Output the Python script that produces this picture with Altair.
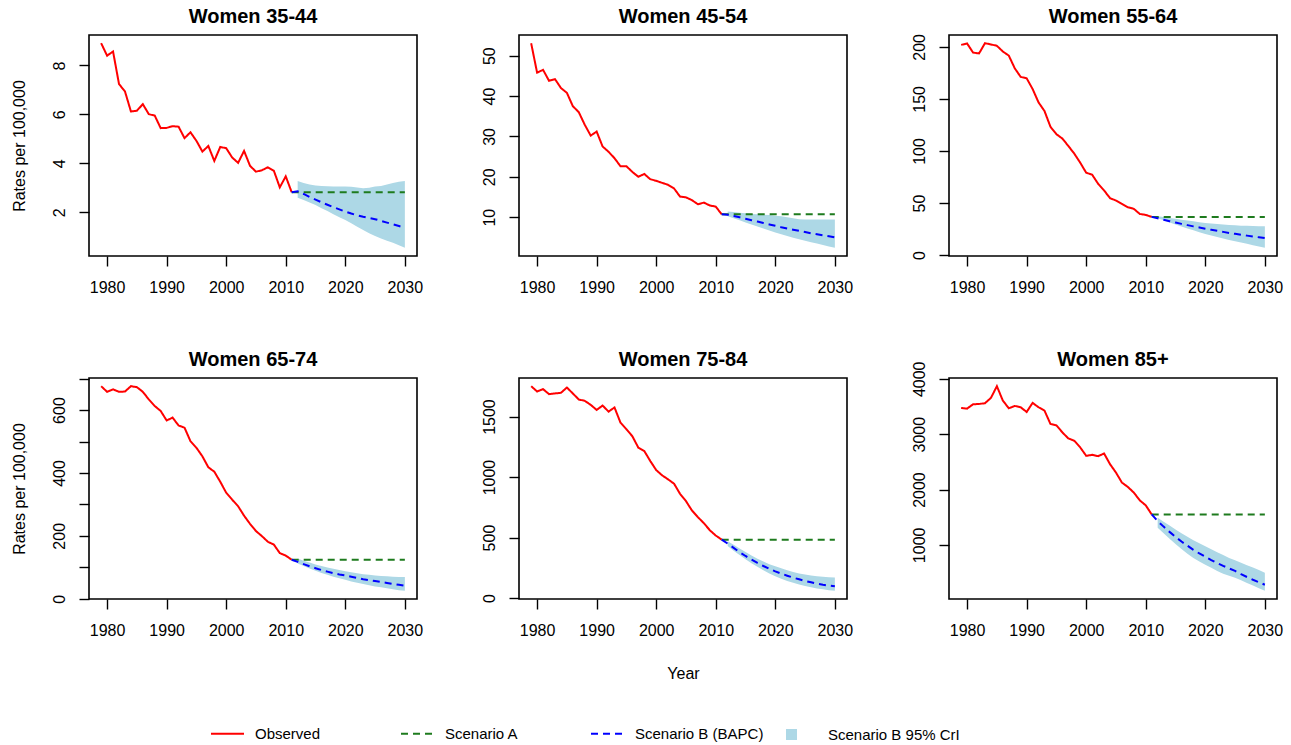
import altair as alt
import pandas as pd

# Years covered by each part of the chart
years_obs = list(range(1979, 2012))
years_proj = list(range(2011, 2031))
years_band = list(range(2012, 2031))
x_ticks = [1980, 1990, 2000, 2010, 2020, 2030]

panel_titles = ["Women 35-44", "Women 45-54", "Women 55-64",
                "Women 65-74", "Women 75-84", "Women 85+"]

line_names = ["Observed", "Scenario A", "Scenario B (BAPC)"]
line_colors = ["#FF0000", "#1E7B1E", "#0000FF"]
line_dashes = [[1, 0], [7, 5], [7, 5]]
band_name = "Scenario B 95% CrI"
band_color = "#ADD8E6"

# Observed rates per 100,000, 1979-2011
obs_35 = [8.91, 8.40, 8.57, 7.24, 6.94, 6.12, 6.15, 6.42, 6.01, 5.95, 5.44, 5.45, 5.52,
          5.50, 5.03, 5.27, 4.92, 4.48, 4.71, 4.10, 4.67, 4.62, 4.24, 4.02, 4.51, 3.90,
          3.66, 3.72, 3.84, 3.70, 3.02, 3.47, 2.82]
obs_45 = [53.1, 45.8, 46.5, 43.8, 44.2, 42.0, 40.8, 37.5, 36.0, 32.9, 30.2, 31.2, 27.5,
          26.2, 24.6, 22.6, 22.6, 21.2, 20.0, 20.7, 19.4, 19.0, 18.5, 18.0, 17.1, 15.1,
          14.9, 14.2, 13.2, 13.6, 12.9, 12.6, 10.7]
obs_55 = [201.9, 203.2, 194.5, 193.6, 203.5, 202.3, 201.0, 195.5, 191.6, 179.4, 171.1,
          169.8, 159.5, 146.6, 138.3, 123.2, 116.1, 111.9, 104.8, 97.4, 88.7, 79.1, 77.2,
          68.5, 62.1, 54.7, 52.4, 49.2, 46.0, 44.4, 39.5, 38.6, 36.7]
obs_65 = [676, 658, 666, 658, 659, 676, 673, 658, 634, 613, 597, 567, 576, 551, 544, 501,
          480, 453, 418, 404, 372, 337, 315, 294, 264, 238, 215, 199, 181, 172, 145, 137, 124]
obs_75 = [1751, 1707, 1727, 1685, 1691, 1696, 1740, 1691, 1641, 1630, 1597, 1555, 1591,
          1541, 1575, 1450, 1395, 1337, 1243, 1215, 1133, 1058, 1014, 981, 945, 862, 801,
          724, 669, 619, 561, 517, 483]
obs_85 = [3474, 3462, 3540, 3546, 3559, 3655, 3867, 3607, 3468, 3510, 3486, 3401, 3565,
          3486, 3425, 3184, 3159, 3032, 2923, 2881, 2760, 2609, 2627, 2603, 2651, 2458,
          2306, 2125, 2046, 1944, 1804, 1714, 1550]

# Scenario A: rates held at their 2011 level
scen_a = [2.82, 10.7, 36.7, 124, 483, 1550]

# Scenario B (BAPC) projections, 2011-2030
proj_35 = [2.82, 2.86, 2.75, 2.63, 2.52, 2.41, 2.31, 2.21, 2.12, 2.03, 1.95, 1.88, 1.82,
           1.77, 1.72, 1.65, 1.58, 1.51, 1.44, 1.37]
proj_45 = [10.7, 10.6, 10.3, 9.95, 9.6, 9.25, 8.9, 8.55, 8.2, 7.85, 7.5, 7.2, 6.9, 6.6,
           6.3, 6.0, 5.75, 5.5, 5.25, 5.0]
proj_55 = [36.7, 35.3, 33.9, 32.6, 31.3, 30.0, 28.8, 27.6, 26.5, 25.4, 24.3, 23.3, 22.3,
           21.3, 20.4, 19.5, 18.7, 17.9, 17.1, 16.4]
proj_65 = [124, 117, 110, 103, 97, 91, 86, 81, 77, 74, 70, 66, 62, 59, 56, 53, 50, 47, 44, 41]
proj_75 = [483, 450, 415, 380, 348, 318, 290, 265, 242, 221, 202, 185, 169, 155, 142, 130,
           119, 110, 103, 97]
proj_85 = [1550, 1430, 1330, 1235, 1145, 1060, 985, 910, 845, 785, 725, 670, 620, 575, 530,
           470, 420, 370, 325, 280]

# Scenario B 95% credible interval, 2012-2030
lo_35 = [2.60, 2.50, 2.40, 2.30, 2.17, 2.05, 1.92, 1.80, 1.69, 1.55, 1.41, 1.28, 1.15, 1.03,
         0.93, 0.84, 0.76, 0.65, 0.55]
hi_35 = [3.28, 3.20, 3.14, 3.10, 3.08, 3.07, 3.06, 3.05, 3.05, 3.04, 3.01, 2.98, 3.00, 3.05,
         3.08, 3.14, 3.20, 3.25, 3.28]
lo_45 = [10.2, 9.7, 9.2, 8.7, 8.2, 7.7, 7.2, 6.7, 6.2, 5.75, 5.3, 4.9, 4.5, 4.15, 3.8, 3.45,
         3.1, 2.75, 2.4]
hi_45 = [11.4, 11.3, 11.1, 10.95, 10.8, 10.7, 10.6, 10.5, 10.35, 10.2, 10.0, 9.75, 9.5, 9.4,
         9.4, 9.4, 9.4, 9.4, 9.4]
lo_55 = [35.5, 33.4, 31.4, 29.4, 27.5, 25.6, 23.8, 22.0, 20.3, 18.8, 17.4, 16.0, 14.6, 13.3,
         12.0, 10.8, 9.5, 8.2, 7.0]
hi_55 = [37.3, 36.5, 35.6, 34.8, 34.0, 33.2, 32.4, 31.6, 30.9, 30.3, 29.8, 29.3, 28.9, 28.6,
         28.3, 28.1, 27.9, 27.8, 27.7]
lo_65 = [112, 104, 96, 89, 82, 76, 70, 65, 60, 55, 51, 47, 43, 39, 36, 33, 30, 27, 25]
hi_65 = [128, 121, 115, 109, 104, 99, 95, 91, 87, 84, 81, 78, 76, 74, 72, 71, 70, 69, 69]
lo_75 = [430, 392, 355, 320, 288, 258, 230, 204, 180, 160, 142, 126, 112, 100, 89, 80, 72, 65, 60]
hi_75 = [470, 440, 410, 380, 352, 326, 302, 280, 262, 246, 230, 216, 204, 195, 187, 181, 176,
         173, 171]
lo_85 = [1310, 1210, 1110, 1015, 925, 840, 765, 700, 640, 585, 530, 480, 440, 405, 360, 310,
         265, 215, 170]
hi_85 = [1490, 1420, 1350, 1280, 1210, 1145, 1085, 1030, 976, 920, 865, 815, 765, 720, 675,
         630, 590, 545, 495]

# Y-axis tick positions per panel, and the spacing of the labelled ones
y_ticks = [
    [2, 4, 6, 8],
    [10, 20, 30, 40, 50],
    [0, 50, 100, 150, 200],
    [0, 100, 200, 300, 400, 500, 600, 700],
    [0, 500, 1000, 1500],
    [1000, 2000, 3000, 4000],
]
y_label_step = [2, 10, 50, 200, 500, 1000]

observed = [obs_35, obs_45, obs_55, obs_65, obs_75, obs_85]
projected = [proj_35, proj_45, proj_55, proj_65, proj_75, proj_85]
band_lo = [lo_35, lo_45, lo_55, lo_65, lo_75, lo_85]
band_hi = [hi_35, hi_45, hi_55, hi_65, hi_75, hi_85]

FONT = "Liberation Sans"
W, H = 328, 221

line_legend = alt.Legend(
    title=None, orient="none", legendX=121, legendY=681,
    direction="horizontal", columns=3, gridAlign="all",
    columnPadding=13, labelOffset=10,
    labelFont=FONT, labelFontSize=15, labelColor="black",
    symbolType="stroke", symbolSize=1089, symbolStrokeWidth=1.8,
)
band_legend = alt.Legend(
    title=None, orient="none", legendX=695, legendY=692,
    labelOffset=29, labelFont=FONT, labelFontSize=15, labelColor="black",
    symbolType="square", symbolSize=121, symbolStrokeWidth=0, symbolOpacity=1,
)

color_enc = alt.Color("series:N", scale=alt.Scale(domain=line_names, range=line_colors),
                      legend=line_legend)
dash_enc = alt.StrokeDash("series:N", scale=alt.Scale(domain=line_names, range=line_dashes),
                          legend=line_legend)
fill_enc = alt.Fill("series:N", scale=alt.Scale(domain=[band_name], range=[band_color]),
                    legend=band_legend)


def panel(i):
    lines_df = pd.concat([
        pd.DataFrame({"year": years_obs, "rate": observed[i], "series": line_names[0]}),
        pd.DataFrame({"year": years_proj, "rate": [scen_a[i]] * len(years_proj),
                      "series": line_names[1]}),
        pd.DataFrame({"year": years_proj, "rate": projected[i], "series": line_names[2]}),
    ])
    band_df = pd.DataFrame({"year": years_band, "lo": band_lo[i], "hi": band_hi[i],
                            "series": band_name})
    title_df = pd.DataFrame({"title": [panel_titles[i]]})

    # R-style axis ranges: data range extended by 4% on each side
    vals = observed[i] + [scen_a[i]] + projected[i] + band_lo[i] + band_hi[i]
    vmin, vmax = min(vals), max(vals)
    r = vmax - vmin
    ydom = [vmin - 0.04 * r, vmax + 0.04 * r]
    xr = years_proj[-1] - years_obs[0]
    xdom = [years_obs[0] - 0.04 * xr, years_proj[-1] + 0.04 * xr]

    x_axis = alt.Axis(values=x_ticks, format="d", labelPadding=13,
                      title="Year" if i == 4 else None, titlePadding=27)
    step = y_label_step[i]
    y_axis = alt.Axis(values=y_ticks[i], format="d", labelAngle=-90,
                      labelAlign="center", labelBaseline="alphabetic", labelPadding=15,
                      labelExpr=f"datum.value % {step} == 0 ? datum.label : ''",
                      title="Rates per 100,000" if i % 3 == 0 else None, titlePadding=24)

    x = alt.X("year:Q", scale=alt.Scale(domain=xdom, nice=False, zero=False), axis=x_axis)
    yscale = alt.Scale(domain=ydom, nice=False, zero=False)

    band = alt.Chart(band_df).mark_area(opacity=1).encode(
        x=x,
        y=alt.Y("lo:Q", scale=yscale, axis=y_axis),
        y2="hi:Q",
        fill=fill_enc,
    )
    lines = alt.Chart(lines_df).mark_line(strokeWidth=2).encode(
        x=x,
        y=alt.Y("rate:Q", scale=yscale, axis=y_axis),
        color=color_enc,
        strokeDash=dash_enc,
        detail="series:N",
    )
    # Panel heading, centred over the plot box
    heading = alt.Chart(title_df).mark_text(
        font=FONT, fontSize=20, fontWeight="bold", color="black",
        align="center", baseline="alphabetic",
    ).encode(text="title:N", x=alt.value(W / 2), y=alt.value(-12))

    return alt.layer(band, lines, heading).properties(width=W, height=H)


chart = alt.concat(
    *[panel(i) for i in range(6)],
    columns=3,
    spacing={"row": 122, "column": 102},
    bounds="flush",
).resolve_scale(
    x="independent", y="independent", color="shared", strokeDash="shared", fill="shared"
).configure(
    padding={"left": 10, "top": 6, "right": 5, "bottom": 0},
    background="white",
).configure_view(
    stroke="black", strokeWidth=1.6
).configure_axis(
    grid=False,
    domain=False,
    tickSize=10,
    tickWidth=1.4,
    tickColor="black",
    labelFont=FONT,
    labelFontSize=16,
    labelColor="black",
    titleFont=FONT,
    titleFontSize=16,
    titleFontWeight="normal",
    titleColor="black",
)

chart.save("out.html", embed_options={"renderer": "svg", "actions": False})
